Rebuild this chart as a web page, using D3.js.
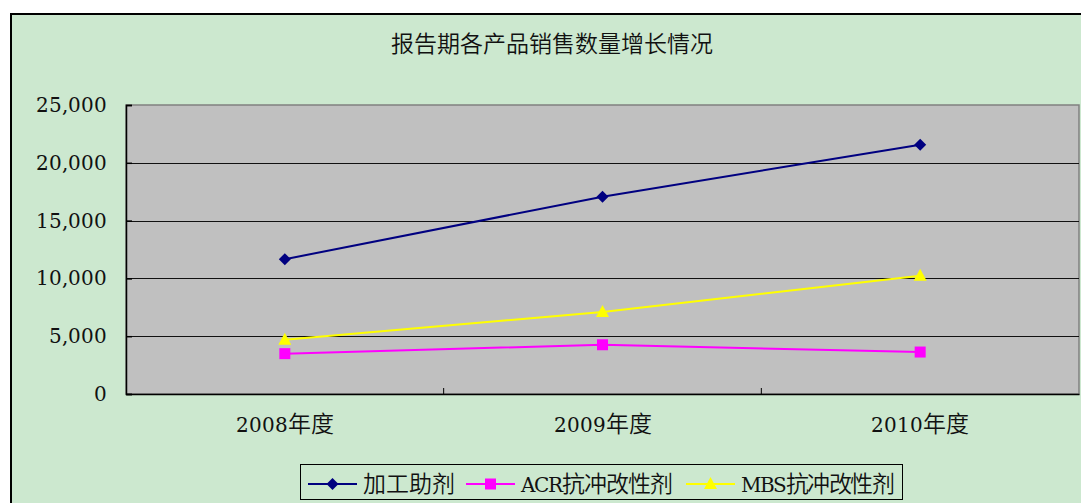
<!DOCTYPE html>
<html>
<head>
<meta charset="utf-8">
<script src="https://cdn.jsdelivr.net/npm/d3@7"></script>
<style>
  /* Latin digits from DejaVu Serif, CJK glyphs from Noto Sans CJK at a slightly larger size */
  @font-face {
    font-family: "ChartText";
    src: local("DejaVu Serif"), local("DejaVuSerif");
    unicode-range: U+0000-02FF;
  }
  @font-face {
    font-family: "ChartText";
    src: local("Noto Sans CJK SC DemiLight"), local("NotoSansCJKsc-DemiLight"),
         local("Noto Sans CJK SC Light"), local("NotoSansCJKsc-Light"),
         local("Noto Sans CJK SC"), local("Noto Sans CJK SC Regular"), local("NotoSansCJKsc-Regular");
    unicode-range: U+2E80-9FFF, U+F900-FFEF;
    size-adjust: 115%;
  }
  html, body { margin: 0; padding: 0; background: #fff; }
  svg { display: block; }
  text { font-family: "ChartText", "DejaVu Serif", "Noto Sans CJK SC", serif; fill: #111; }
</style>
</head>
<body>
<svg id="chart" width="1081" height="503"></svg>
<script>
// Sales volume by product, per reporting year
const categories = ["2008年度", "2009年度", "2010年度"];
const seriesNames = ["加工助剂", "ACR抗冲改性剂", "MBS抗冲改性剂"];
const processingAid = [11660, 17070, 21570];
const acrModifier = [3490, 4260, 3630];
const mbsModifier = [4700, 7090, 10230];
const yTicks = [0, 5000, 10000, 15000, 20000, 25000];
const title = "报告期各产品销售数量增长情况";

const series = [
  { name: seriesNames[0], values: processingAid, color: "#000080", marker: "diamond" },
  { name: seriesNames[1], values: acrModifier, color: "#FF00FF", marker: "square" },
  { name: seriesNames[2], values: mbsModifier, color: "#FFFF00", marker: "triangle" }
];

const svg = d3.select("#chart");
const plot = { left: 126, top: 105, right: 1079, bottom: 394 };

// Outer chart frame
svg.append("rect")
  .attr("x", 11).attr("y", 14)
  .attr("width", 1200).attr("height", 600)
  .attr("fill", "#CCE8CF")
  .attr("stroke", "#000").attr("stroke-width", 2);

svg.append("text")
  .attr("x", 552).attr("y", 52)
  .attr("text-anchor", "middle")
  .style("font-size", "20px")
  .text(title);

const x = d3.scaleBand().domain(categories).range([plot.left, plot.right]);
const y = d3.scaleLinear().domain([0, 25000]).range([plot.bottom, plot.top]);

// Plot area
svg.append("rect")
  .attr("x", plot.left).attr("y", plot.top)
  .attr("width", plot.right - plot.left).attr("height", plot.bottom - plot.top)
  .attr("fill", "#C0C0C0")
  .attr("stroke", "#808080").attr("stroke-width", 1.5);

// Horizontal gridlines
svg.append("g")
  .selectAll("line")
  .data(yTicks.filter(d => d > 0 && d < 25000))
  .join("line")
  .attr("x1", plot.left).attr("x2", plot.right)
  .attr("y1", d => Math.round(y(d)) + 0.5).attr("y2", d => Math.round(y(d)) + 0.5)
  .attr("stroke", "#111").attr("stroke-width", 1.2);

// Y axis
const fmt = d3.format(",");
const yAxis = svg.append("g")
  .attr("transform", `translate(${plot.left},0)`)
  .call(d3.axisLeft(y).tickValues(yTicks).tickSize(-6).tickPadding(19).tickFormat(d => fmt(d)));
yAxis.select(".domain").attr("stroke", "#000").attr("stroke-width", 1.5);
yAxis.selectAll(".tick line").attr("stroke", "#000").attr("stroke-width", 1.5);
yAxis.selectAll(".tick text")
  .style("font-size", "20px")
  .attr("font-family", null)
  .attr("fill", "#111");

// X axis
const xAxis = svg.append("g")
  .attr("transform", `translate(0,${plot.bottom})`)
  .call(d3.axisBottom(x).tickSize(0).tickPadding(24));
xAxis.select(".domain").attr("stroke", "#000").attr("stroke-width", 1.5);
xAxis.selectAll(".tick text")
  .style("font-size", "20px")
  .attr("font-family", null)
  .attr("fill", "#111");
// Category separators, drawn inward
svg.append("g")
  .selectAll("line")
  .data(categories.slice(1))
  .join("line")
  .attr("x1", d => x(d)).attr("x2", d => x(d))
  .attr("y1", plot.bottom).attr("y2", plot.bottom - 6)
  .attr("stroke", "#000").attr("stroke-width", 1);

const cx = (i) => x(categories[i]) + x.bandwidth() / 2;

function drawMarker(g, kind, color, px, py) {
  if (kind === "diamond") {
    g.append("path")
      .attr("d", `M${px},${py - 6}L${px + 6},${py}L${px},${py + 6}L${px - 6},${py}Z`)
      .attr("fill", color);
  } else if (kind === "square") {
    g.append("rect")
      .attr("x", px - 5.5).attr("y", py - 5.5)
      .attr("width", 11).attr("height", 11)
      .attr("fill", color);
  } else {
    g.append("path")
      .attr("d", `M${px},${py - 7}L${px + 6.5},${py + 5}L${px - 6.5},${py + 5}Z`)
      .attr("fill", color);
  }
}

const line = d3.line().x((d, i) => cx(i)).y(d => y(d));

series.forEach(s => {
  const g = svg.append("g");
  g.append("path")
    .datum(s.values)
    .attr("d", line)
    .attr("fill", "none")
    .attr("stroke", s.color)
    .attr("stroke-width", 2);
  s.values.forEach((v, i) => drawMarker(g, s.marker, s.color, cx(i), y(v)));
});

// Legend
const legend = svg.append("g");
legend.append("rect")
  .attr("x", 300.5).attr("y", 464.5)
  .attr("width", 602).attr("height", 35)
  .attr("fill", "#CCE8CF")
  .attr("stroke", "#000").attr("stroke-width", 1);

const legendX = [308, 466, 686];
const legendTextWidth = [92, 152, 154];
series.forEach((s, i) => {
  const lx = legendX[i];
  const ly = 484;
  legend.append("line")
    .attr("x1", lx).attr("x2", lx + 49)
    .attr("y1", ly).attr("y2", ly)
    .attr("stroke", s.color).attr("stroke-width", 2);
  drawMarker(legend, s.marker, s.color, lx + 24.5, ly);
  legend.append("text")
    .attr("x", lx + 55).attr("y", ly + 8)
    .attr("textLength", legendTextWidth[i])
    .attr("lengthAdjust", "spacing")
    .style("font-size", "20px")
    .text(s.name);
});
</script>
</body>
</html>
